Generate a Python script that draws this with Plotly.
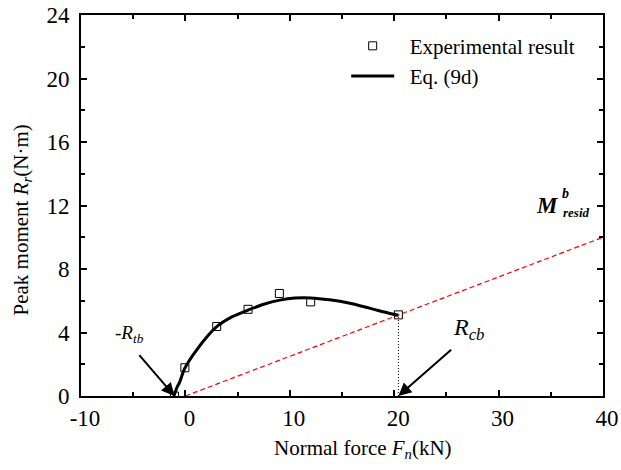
import plotly.graph_objects as go

exp_x = [-1.05, -0.05, 3.0, 6.0, 9.0, 12.0, 20.4]
exp_y = [0.0, 1.78, 4.38, 5.46, 6.46, 5.93, 5.11]

# Eq. (9d) curve
eq_x = [-1.1, -0.8, -0.55, -0.07, 1.05, 2.97, 4.5, 6.0, 7.5, 9.04, 10.5, 12.0, 13.8, 15.75, 17.7, 19.6, 20.4]
eq_y = [0.0, 0.55, 0.88, 1.73, 2.88, 4.35, 5.0, 5.41, 5.78, 6.04, 6.17, 6.18, 6.06, 5.84, 5.52, 5.2, 5.09]

# Residual line M^b_resid
resid_x = [0, 40]
resid_y = [0, 10]

# Dotted drop line at R_cb
rcb_x = [20.4, 20.4]
rcb_y = [0, 5.11]
rtb_x = -1.05

# Tick labels
x_tickvals = [-10, 0, 10, 20, 30, 40]
x_ticktext = ["-10", "0", "10", "20", "30", "40"]
y_tickvals = [0, 4, 8, 12, 16, 20, 24]
y_ticktext = ["0", "4", "8", "12", "16", "20", "24"]

FONT = "Liberation Serif, Times New Roman, serif"

fig = go.Figure()
fig.add_trace(go.Scatter(x=resid_x, y=resid_y, mode="lines", showlegend=False,
                         line=dict(color="red", width=1.2, dash="5px,3px")))
fig.add_trace(go.Scatter(x=rcb_x, y=rcb_y, mode="lines", showlegend=False,
                         line=dict(color="black", width=1, dash="1px,2px")))
fig.add_trace(go.Scatter(x=exp_x, y=exp_y, mode="markers", name="\u00a0\u00a0Experimental result",
                         marker=dict(symbol="square-open", size=8, color="black", line=dict(width=1))))
fig.add_trace(go.Scatter(x=eq_x, y=eq_y, mode="lines", name="\u00a0\u00a0Eq. (9d)",
                         line=dict(color="black", width=3, shape="spline", smoothing=0.8)))

axis_common = dict(showline=True, linecolor="black", linewidth=2, mirror="ticks",
                   ticks="inside", ticklen=6, tickwidth=1.5, tickcolor="black",
                   showgrid=False, zeroline=False, automargin=False,
                   tickfont=dict(family=FONT, size=23, color="black"))

fig.update_xaxes(range=[-10, 40], tickmode="array", tickvals=x_tickvals, ticktext=x_ticktext,
                 minor=dict(dtick=5, tick0=0, ticks="inside", ticklen=4, tickwidth=1.5, tickcolor="black"),
                 ticklabelshift=4, **axis_common)
fig.update_yaxes(range=[0, 24], tickmode="array", tickvals=y_tickvals, ticktext=y_ticktext,
                 minor=dict(dtick=2, tick0=0, ticks="inside", ticklen=4, tickwidth=1.5, tickcolor="black"),
                 ticklabelstandoff=5, **axis_common)

ann = []
# axis titles
ann.append(dict(text="Normal force <i>F</i><sub><i>n</i></sub>(kN)", xref="paper", yref="paper",
                x=0.54, y=-0.14, showarrow=False, font=dict(family=FONT, size=21, color="black"),
                xanchor="center", yanchor="middle"))
ann.append(dict(text="Peak moment <i>R</i><sub><i>r</i></sub>(N·m)", xref="paper", yref="paper",
                x=-0.114, y=0.462, showarrow=False, textangle=-90,
                font=dict(family=FONT, size=21, color="black"), xanchor="center", yanchor="middle"))
# -R_tb arrow
ann.append(dict(x=rtb_x, y=0, ax=-4.54, ay=2.67, axref="x", ayref="y", xref="x", yref="y",
                showarrow=True, arrowhead=2, arrowsize=1.3, arrowwidth=2, arrowcolor="black", text=""))
ann.append(dict(x=-5.4, y=3.9, xref="x", yref="y", showarrow=False,
                text="-<i>R</i><sub><i>tb</i></sub>", font=dict(family=FONT, size=19, color="black")))
# R_cb arrow
ann.append(dict(x=rcb_x[0], y=0, ax=25.6, ay=3.0, axref="x", ayref="y", xref="x", yref="y",
                showarrow=True, arrowhead=2, arrowsize=1.3, arrowwidth=2, arrowcolor="black", text=""))
ann.append(dict(x=27.2, y=4.2, xref="x", yref="y", showarrow=False,
                text="<i>R</i><sub><i>cb</i></sub>", font=dict(family=FONT, size=24, color="black")))
# M^b_resid
ann.append(dict(x=34.7, y=12.0, xref="x", yref="y", showarrow=False,
                text="<b><i>M</i></b>", font=dict(family=FONT, size=23, color="black")))
ann.append(dict(x=36.4, y=12.75, xref="x", yref="y", showarrow=False,
                text="<b><i>b</i></b>", font=dict(family=FONT, size=14, color="black")))
ann.append(dict(x=37.5, y=11.55, xref="x", yref="y", showarrow=False,
                text="<b><i>resid</i></b>", font=dict(family=FONT, size=13, color="black")))

fig.update_layout(
    width=621, height=470,
    margin=dict(l=81, r=18, t=15, b=74),
    paper_bgcolor="white", plot_bgcolor="white",
    font=dict(family=FONT, color="black"),
    annotations=ann,
    legend=dict(x=0.508, y=0.972, xanchor="left", yanchor="top", bgcolor="rgba(0,0,0,0)",
                font=dict(family=FONT, size=21, color="black"), itemwidth=43, tracegroupgap=0),
)

fig.write_html("out.html")
